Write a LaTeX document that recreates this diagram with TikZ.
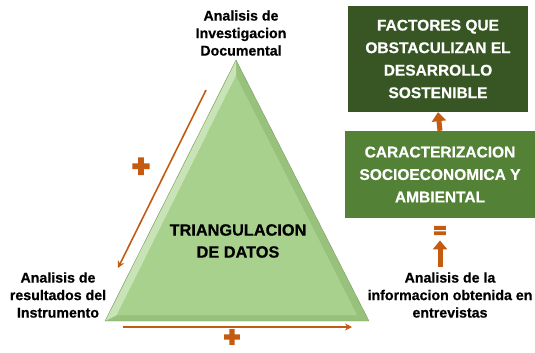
\documentclass[tikz,border=0pt]{standalone}
\usepackage{fontspec}
\setmainfont{Liberation Sans}[BoldFeatures={FakeBold=0.6}]
\newfontfamily\signfont{Liberation Sans Bold}[FakeBold=8]
\usetikzlibrary{arrows.meta, positioning}

\definecolor{darkgreen}{HTML}{375623}
\definecolor{midgreen}{HTML}{538135}
\definecolor{lightgreen}{HTML}{A9D18E}
\definecolor{bevellight}{HTML}{C8E3B5}
\definecolor{beveldark}{HTML}{98C27B}
\definecolor{rust}{HTML}{C55A11}

\begin{document}
\begin{tikzpicture}[x=1pt,y=-1pt,
  corner/.style={align=center,font=\bfseries\fontsize{14.2}{17.5}\selectfont},
  box/.style={fill=#1,text=white,align=center,font=\bfseries\fontsize{15.5}{22.5}\selectfont},
  flow/.style={draw=rust,line width=1.6pt,-{Stealth[length=7pt,width=7pt]}},
  block/.style={draw=rust,line width=5pt,-{Triangle[length=9pt,width=14pt]}},
  sign/.style={text=rust,inner sep=0pt,font=\signfont\fontsize{30}{30}\selectfont}]
  \useasboundingbox (0,0) rectangle (535,353);

  % triangle with bevel
  \coordinate (apex) at (236,60);
  \coordinate (bl)   at (105,321);
  \coordinate (br)   at (369,321);
  \coordinate (iapex) at (236,76);
  \coordinate (ibl)   at (117,315);
  \coordinate (ibr)   at (357,315);
  \fill[beveldark]  (apex) -- (bl) -- (br) -- cycle;
  \fill[bevellight] (apex) -- (bl) -- (ibl) -- (iapex) -- cycle;
  \fill[lightgreen] (iapex) -- (ibl) -- (ibr) -- cycle;
  \draw[beveldark!80!black, line width=0.4pt] (apex) -- (bl) -- (br) -- cycle;

  \node[font=\bfseries\fontsize{16.3}{22}\selectfont, align=center] (tri) at (238,241) {TRIANGULACION\\DE DATOS};

  % corners
  \node[corner] (doc)  at (241,33)  {Analisis de\\Investigacion\\Documental};
  \node[corner] (inst) at (58,295)  {Analisis de\\resultados del\\Instrumento};
  \node[corner] (entr) at (450,295) {Analisis de la\\informacion obtenida en\\entrevistas};

  % result boxes
  \node[box=darkgreen, minimum width=180pt, minimum height=106pt] (fact)  at (438,59)    {FACTORES QUE\\OBSTACULIZAN EL\\DESARROLLO\\SOSTENIBLE};
  \node[box=midgreen,  minimum width=190pt, minimum height=87pt]  (carac) at (440,174.5) {CARACTERIZACION\\SOCIOECONOMICA Y\\AMBIENTAL};

  % signs
  \node[sign, font=\signfont\fontsize{20}{20}\selectfont] (eq) at (440,232) {=};
  \node[sign] (plusl) at (141,167.5) {+};
  \node[sign, font=\signfont\fontsize{27}{27}\selectfont] (plusb) at (232,338) {+};

  % arrows
  \coordinate (la1) at (206,90);
  \coordinate (la2) at (118,268);
  \coordinate (ba1) at (123,327);
  \coordinate (ba2) at (352,327);
  \draw[flow] (la1) -- (la2);
  \draw[flow] (ba1) -- (ba2);
  \draw[block] (carac.north) -- (fact.south);
  \draw[block, shorten <=2pt, shorten >=3pt] (eq.south |- entr.north) -- (eq.south);
\end{tikzpicture}
\end{document}
